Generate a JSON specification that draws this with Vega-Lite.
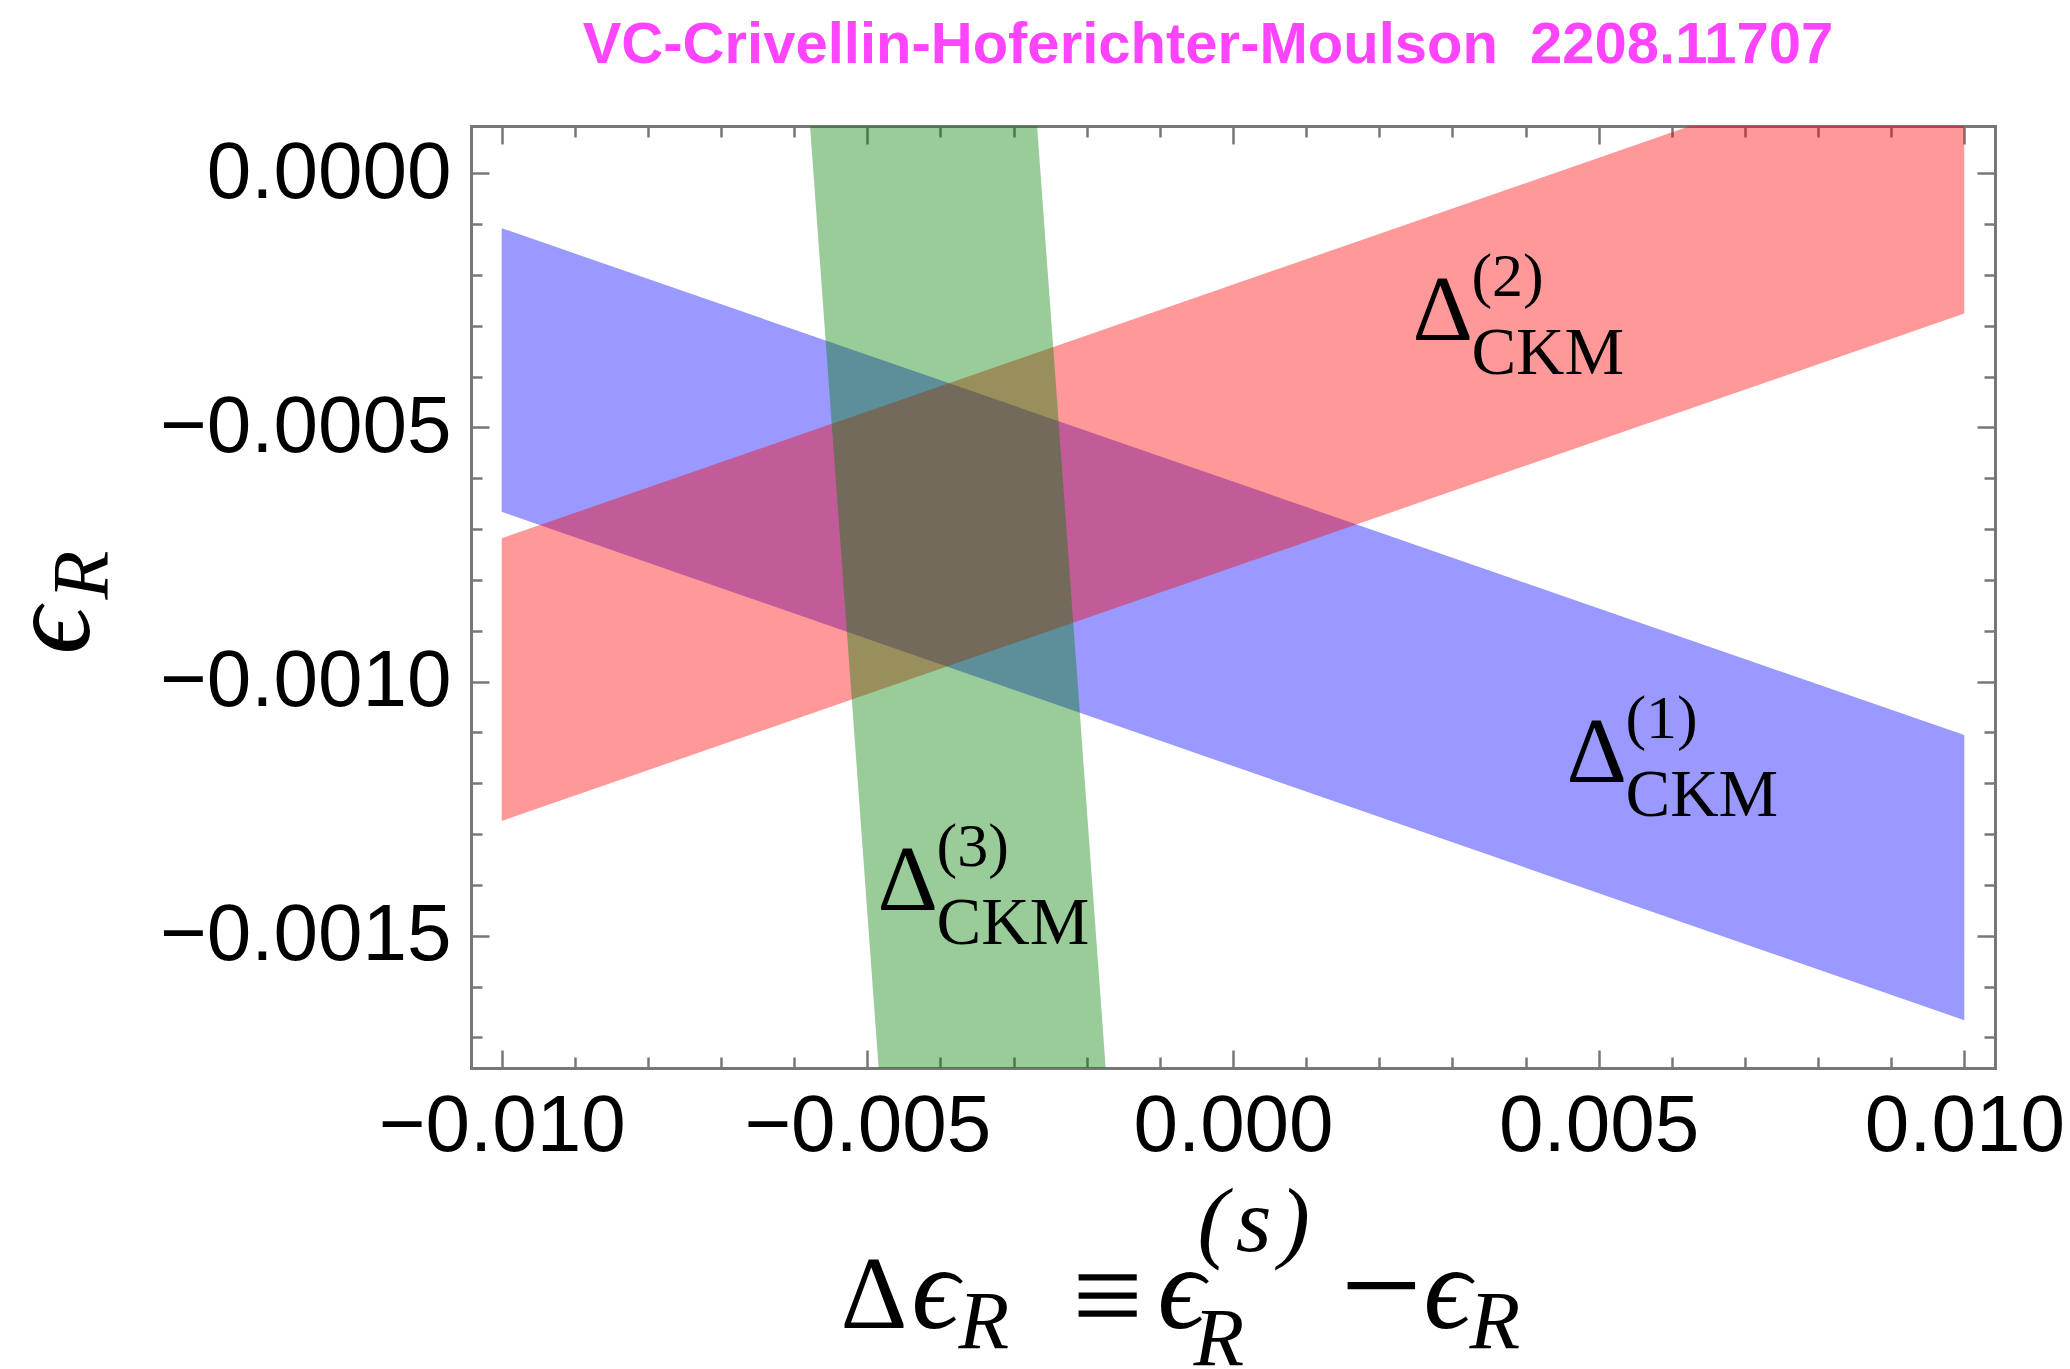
{
  "$schema": "https://vega.github.io/schema/vega-lite/v6.json",
  "width": 1524,
  "height": 942,
  "autosize": "none",
  "padding": {"left": 471, "top": 126, "right": 75, "bottom": 301},
  "background": "white",
  "title": {
    "text": "VC-Crivellin-Hoferichter-Moulson\u00a0 2208.11707",
    "font": "Liberation Sans",
    "fontWeight": "bold",
    "fontSize": 58,
    "color": "#ff44ff",
    "anchor": "middle",
    "frame": "group",
    "baseline": "alphabetic",
    "offset": 4,
    "dx": -25,
    "limit": 0
  },
  "datasets": {
    "blue": [
      {"x": -0.010, "lo": -0.000666, "hi": -0.000108},
      {"x": 0.010, "lo": -0.001666, "hi": -0.001105}
    ],
    "red": [
      {"x": -0.010, "lo": -0.001274, "hi": -0.000718},
      {"x": 0.010, "lo": -0.000276, "hi": 0.00028}
    ],
    "green": [
      {"y": 0.000093, "lo": -0.005784, "hi": -0.002679},
      {"y": -0.00176, "lo": -0.004846, "hi": -0.001741}
    ],
    "labels": [
      {"band": "1", "x": 0.00456, "y": -0.001197, "sup": "(1)", "sub": "CKM"},
      {"band": "2", "x": 0.002453, "y": -0.000327, "sup": "(2)", "sub": "CKM"},
      {"band": "3", "x": -0.00486, "y": -0.001449, "sup": "(3)", "sub": "CKM"}
    ]
  },
  "config": {
    "view": {"stroke": null},
    "axis": {
      "grid": false,
      "domain": false,
      "ticks": false,
      "labels": false,
      "tickColor": "#777777",
      "tickWidth": 2.5,
      "domainColor": "#777777",
      "domainWidth": 3,
      "domainCap": "square",
      "labelFont": "Liberation Sans",
      "labelFontSize": 80,
      "labelColor": "black",
      "labelLimit": 0,
      "titleLimit": 0,
      "titleColor": "black",
      "titleFont": "Liberation Serif",
      "titleFontWeight": "normal",
      "titleAlign": "left",
      "titleBaseline": "alphabetic",
      "zindex": 1,
      "labelFlush": false,
      "labelOverlap": false
    }
  },
  "resolve": {"axis": {"x": "independent", "y": "independent"}},
  "layer": [
    {
      "data": {"name": "blue"},
      "mark": {"type": "area", "color": "#0000ff", "opacity": 0.4, "clip": true},
      "encoding": {
        "x": {
          "field": "x", "type": "quantitative",
          "scale": {"domain": [-0.01042, 0.01042], "nice": false, "zero": false},
          "axis": {
            "orient": "bottom", "values": [-0.01, -0.005, 0, 0.005, 0.01], "format": ".3f",
            "labels": true, "ticks": true, "tickSize": -18, "labelPadding": 100, "labelBaseline": "alphabetic",
            "domain": true,
            "title": "Δ", "titleFontSize": 104, "titleAngle": 0, "titleX": 369, "titleY": 259
          }
        },
        "y": {
          "field": "lo", "type": "quantitative",
          "scale": {"domain": [-0.00176, 0.000093], "nice": false, "zero": false},
          "axis": {
            "orient": "left", "values": [0, -0.0005, -0.001, -0.0015], "format": ".4f",
            "labels": true, "ticks": true, "tickSize": -18, "labelPadding": 38,
            "domain": true,
            "title": "ϵ", "titleFontStyle": "italic", "titleFontSize": 118, "titleAngle": -90, "titleX": -383, "titleY": 528
          }
        },
        "y2": {"field": "hi"}
      }
    },
    {
      "data": {"name": "red"},
      "mark": {"type": "area", "color": "#ff0000", "opacity": 0.4, "clip": true},
      "encoding": {
        "x": {
          "field": "x", "type": "quantitative",
          "scale": {"domain": [-0.01042, 0.01042], "nice": false, "zero": false},
          "axis": {
            "orient": "bottom",
            "values": [-0.009, -0.008, -0.007, -0.006, -0.004, -0.003, -0.002, -0.001, 0.001, 0.002, 0.003, 0.004, 0.006, 0.007, 0.008, 0.009],
            "ticks": true, "tickSize": -11,
            "title": "ϵ", "titleFontStyle": "italic", "titleFontSize": 118, "titleAngle": 0, "titleX": 440, "titleY": 259
          }
        },
        "y": {
          "field": "lo", "type": "quantitative",
          "scale": {"domain": [-0.00176, 0.000093], "nice": false, "zero": false},
          "axis": {
            "orient": "left",
            "values": [-0.0001, -0.0002, -0.0003, -0.0004, -0.0006, -0.0007, -0.0008, -0.0009, -0.0011, -0.0012, -0.0013, -0.0014, -0.0016, -0.0017],
            "ticks": true, "tickSize": -11,
            "title": "R", "titleFontStyle": "italic", "titleFontSize": 80, "titleAngle": -90, "titleX": -364, "titleY": 473
          }
        },
        "y2": {"field": "hi"}
      }
    },
    {
      "data": {"name": "green"},
      "mark": {"type": "area", "orient": "horizontal", "color": "#008000", "opacity": 0.4, "clip": true},
      "encoding": {
        "y": {
          "field": "y", "type": "quantitative",
          "scale": {"domain": [-0.00176, 0.000093], "nice": false, "zero": false},
          "axis": {
            "orient": "right", "values": [0, -0.0005, -0.001, -0.0015],
            "ticks": true, "tickSize": -18, "domain": true,
            "title": "≡", "titleFontSize": 125, "titleAngle": 0, "titleX": -923, "titleY": 1210
          }
        },
        "x": {
          "field": "lo", "type": "quantitative",
          "scale": {"domain": [-0.01042, 0.01042], "nice": false, "zero": false},
          "axis": {
            "orient": "top", "values": [-0.01, -0.005, 0, 0.005, 0.01],
            "ticks": true, "tickSize": -18, "domain": true,
            "title": "R", "titleFontStyle": "italic", "titleFontSize": 83, "titleAngle": 0, "titleX": 487, "titleY": 1221
          }
        },
        "x2": {"field": "hi"}
      }
    },
    {
      "data": {"name": "labels"},
      "mark": {"type": "text", "text": "Δ", "font": "Liberation Serif", "fontSize": 94, "align": "left", "baseline": "alphabetic", "color": "black"},
      "encoding": {
        "x": {
          "field": "x", "type": "quantitative",
          "scale": {"domain": [-0.01042, 0.01042], "nice": false, "zero": false},
          "axis": {
            "orient": "top",
            "values": [-0.009, -0.008, -0.007, -0.006, -0.004, -0.003, -0.002, -0.001, 0.001, 0.002, 0.003, 0.004, 0.006, 0.007, 0.008, 0.009],
            "ticks": true, "tickSize": -11,
            "title": "ϵ", "titleFontStyle": "italic", "titleFontSize": 118, "titleAngle": 0, "titleX": 686, "titleY": 1201
          }
        },
        "y": {
          "field": "y", "type": "quantitative",
          "scale": {"domain": [-0.00176, 0.000093], "nice": false, "zero": false},
          "axis": {
            "orient": "right",
            "values": [-0.0001, -0.0002, -0.0003, -0.0004, -0.0006, -0.0007, -0.0008, -0.0009, -0.0011, -0.0012, -0.0013, -0.0014, -0.0016, -0.0017],
            "ticks": true, "tickSize": -11,
            "title": "(\u200as\u200a)", "titleFontStyle": "italic", "titleFontSize": 92, "titleAngle": 0, "titleX": -798, "titleY": 1124
          }
        }
      }
    },
    {
      "data": {"name": "labels"},
      "mark": {"type": "text", "font": "Liberation Serif", "fontSize": 62, "align": "left", "baseline": "alphabetic", "color": "black", "dx": 59, "dy": -44},
      "encoding": {
        "text": {"field": "sup"},
        "x": {
          "field": "x", "type": "quantitative",
          "scale": {"domain": [-0.01042, 0.01042], "nice": false, "zero": false},
          "axis": {
            "orient": "bottom",
            "title": "R", "titleFontStyle": "italic", "titleFontSize": 83, "titleAngle": 0, "titleX": 722, "titleY": 296
          }
        },
        "y": {
          "field": "y", "type": "quantitative",
          "scale": {"domain": [-0.00176, 0.000093], "nice": false, "zero": false},
          "axis": {
            "orient": "left",
            "title": "−", "titleFontSize": 145, "titleAngle": 0, "titleX": 869, "titleY": 1207
          }
        }
      }
    },
    {
      "data": {"name": "labels"},
      "mark": {"type": "text", "font": "Liberation Serif", "fontSize": 67, "align": "left", "baseline": "alphabetic", "color": "black", "dx": 59, "dy": 34},
      "encoding": {
        "text": {"field": "sub"},
        "x": {
          "field": "x", "type": "quantitative",
          "scale": {"domain": [-0.01042, 0.01042], "nice": false, "zero": false},
          "axis": {
            "orient": "bottom",
            "title": "ϵ", "titleFontStyle": "italic", "titleFontSize": 118, "titleAngle": 0, "titleX": 952, "titleY": 259
          }
        },
        "y": {
          "field": "y", "type": "quantitative",
          "scale": {"domain": [-0.00176, 0.000093], "nice": false, "zero": false},
          "axis": {
            "orient": "left",
            "title": "R", "titleFontStyle": "italic", "titleFontSize": 83, "titleAngle": 0, "titleX": 998, "titleY": 1221
          }
        }
      }
    }
  ]
}
